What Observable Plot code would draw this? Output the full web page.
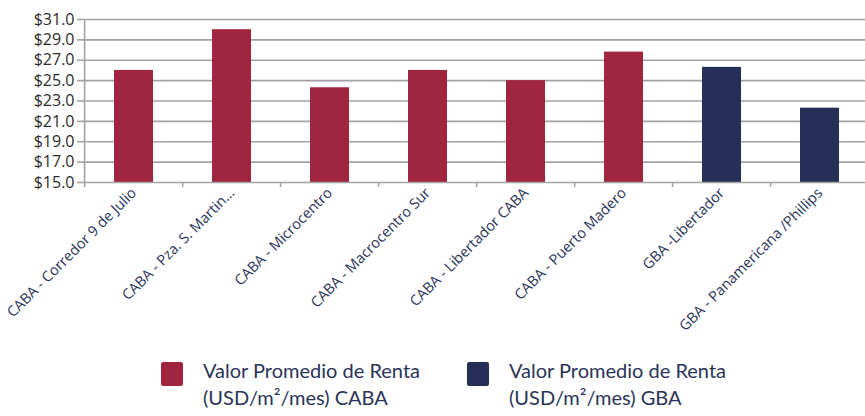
<!DOCTYPE html>
<html><head><meta charset="utf-8">
<script src="https://cdn.jsdelivr.net/npm/d3@7"></script>
<script src="https://cdn.jsdelivr.net/npm/@observablehq/plot@0.6"></script>
<style>
body{margin:0;background:#fff;}
#chart{width:865px;height:416px;position:relative;overflow:hidden;}
.legend{position:absolute;top:357px;left:0;width:865px;height:59px;font-family:Lato,"Open Sans",sans-serif;color:#2a3358;font-size:20px;line-height:27px;}
.item{position:absolute;top:0;}
.sw{position:absolute;top:5px;width:22px;height:24px;border-radius:2px;}
.lt{position:absolute;left:42px;top:0;white-space:nowrap;}
</style></head>
<body><div id="chart"></div>
<script>
const categories = ["CABA - Corredor 9 de Julio","CABA - Pza. S. Martin…","CABA - Microcentro","CABA - Macrocentro Sur","CABA - Libertador CABA","CABA - Puerto Madero","GBA -Libertador","GBA - Panamericana /Phillips"];
const values = [26.0, 30.0, 24.3, 26.0, 25.0, 27.8, 26.3, 22.3];
const groups = ["CABA","CABA","CABA","CABA","CABA","CABA","GBA","GBA"];
const yTicks = [15,17,19,21,23,25,27,29,31];
const seriesNames = ["CABA","GBA"];
const seriesColors = ["#a0253f","#262f57"];
const legendLines = [["Valor Promedio de Renta","(USD/m²/mes) CABA"],["Valor Promedio de Renta","(USD/m²/mes) GBA"]];

const data = categories.map((c,i)=>({cat:c, v:values[i], g:groups[i]}));
const yMin = yTicks[0], yMax = yTicks[yTicks.length-1];
const gray = "#a3a3a3";

const plot = Plot.plot({
  width: 865, height: 345,
  marginTop: 19, marginBottom: 163, marginLeft: 82, marginRight: -7,
  style: {fontFamily: "'Open Sans', sans-serif", fontSize: "14px", color: "#2b2b2b", background: "#fff"},
  x: {domain: categories, paddingInner: 0.6, paddingOuter: 0.3, label: null},
  y: {domain: [yMin, yMax], label: null},
  color: {domain: seriesNames, range: seriesColors},
  marks: [
    Plot.ruleY(yTicks.slice(1), {y: d=>d, stroke: gray, strokeWidth: 1.6}),
    Plot.barY(data, {x: "cat", y1: yMin, y2: "v", fill: "g"}),
    Plot.ruleY([yMin], {stroke: gray, strokeWidth: 1.6}),
    Plot.ruleX(categories.slice(0,1), {x: d=>d, dx: -49.4, y1: yMin, y2: yMax, stroke: gray, strokeWidth: 1.6}),
    Plot.ruleX(categories, {x: d=>d, dx: -49.4, y1: yMin, y2: yMin, insetBottom: -5, stroke: gray, strokeWidth: 1.6}),
    Plot.axisY({ticks: yTicks, tickFormat: d=>"$"+d.toFixed(1), tickSize: 5, stroke: gray, strokeWidth: 1.6, tickPadding: 3, fontSize: 16, fill: "#2b2b2b"}),
    Plot.axisX({tickRotate: -45, tickSize: 0, tickPadding: 8, fill: "#2a3358", fontSize: 14.5})
  ]
});
const chart = document.getElementById("chart");
chart.appendChild(plot);

const leg = document.createElement("div");
leg.className = "legend";
const lefts = [161, 467];
seriesNames.forEach((s,i)=>{
  const it = document.createElement("div");
  it.className = "item"; it.style.left = lefts[i]+"px";
  const sw = document.createElement("div"); sw.className="sw"; sw.style.background = seriesColors[i];
  const lt = document.createElement("div"); lt.className="lt"; lt.innerHTML = legendLines[i].join("<br>");
  it.appendChild(sw); it.appendChild(lt); leg.appendChild(it);
});
chart.appendChild(leg);
</script></body></html>
